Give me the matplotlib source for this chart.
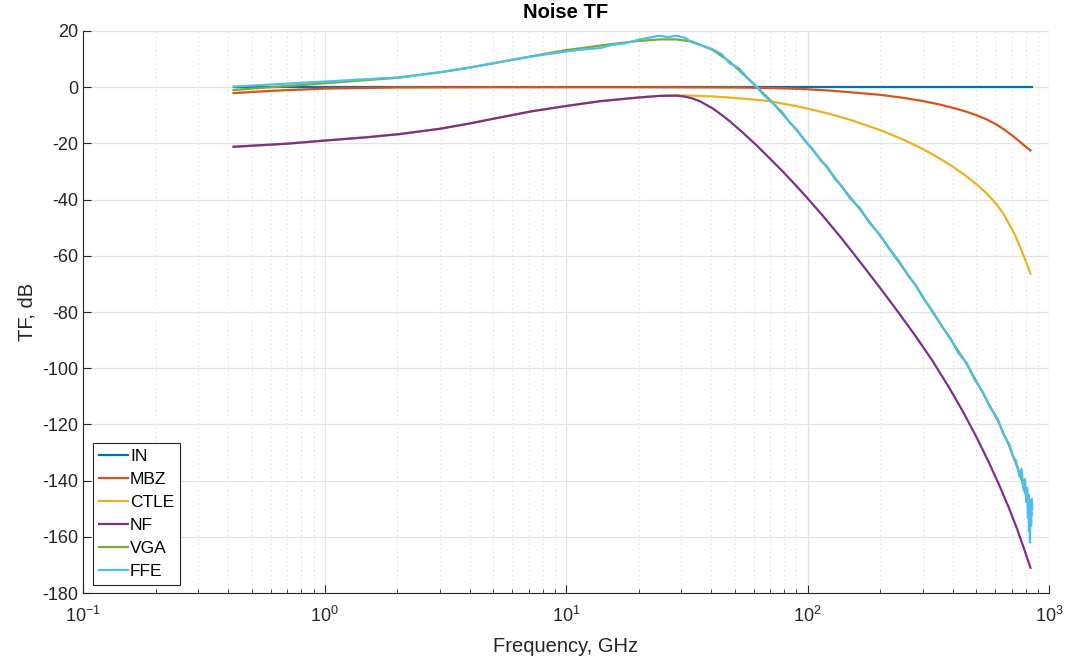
import numpy as np
import matplotlib
matplotlib.use("Agg")
import matplotlib.pyplot as plt
from matplotlib.ticker import LogLocator, NullFormatter

plt.rcParams['font.family'] = ['Liberation Sans', 'DejaVu Sans']
plt.rcParams['axes.unicode_minus'] = False

# frequency (GHz) / transfer function (dB)
f_in = [0.42, 850]
tf_in = [0, 0]

f_mbz = [0.42, 0.6, 1.0, 2.0, 5.0, 20, 50, 70, 93, 121, 150, 199, 250, 299, 350, 398, 450, 500,
         550, 606, 650, 707, 750, 778, 810, 838]
tf_mbz = [-2.1, -1.3, -0.5, -0.1, 0, 0, -0.1, -0.3, -0.6, -1.15, -1.8, -2.7, -3.8, -4.9, -6.1, -7.3,
          -8.6, -9.95, -11.4, -13.3, -15.0, -17.3, -19.1, -20.3, -21.5, -22.5]

f_ctle = [0.42, 0.7, 1.0, 1.5, 2.04, 3.0, 4.0, 5.3, 7.3, 10, 13.8, 19.8, 24.4, 28.6, 33.4, 40.4, 47.6,
          61.5, 71, 92, 121, 150, 199, 250, 299, 350, 398, 450, 500, 550, 606, 650, 707, 740, 778, 810, 838]
tf_ctle = [-21.2, -20.1, -19.0, -17.8, -16.7, -14.8, -12.9, -10.8, -8.5, -6.7, -5.0, -3.7, -3.1, -2.9,
           -3.0, -3.3, -3.7, -4.5, -5.1, -6.9, -9.3, -11.6, -15.2, -18.7, -21.9, -25.2, -28.2, -31.4,
           -34.5, -37.7, -41.6, -45.3, -50.9, -54.6, -59.2, -62.9, -66.3]

f_nf = [0.42, 0.7, 1.0, 1.5, 2.04, 3.0, 4.0, 5.3, 7.3, 10, 13.8, 19.8, 24.4, 28.6, 31.0, 33.4, 36.0,
        40.4, 44.0, 47.6, 54.0, 61.5, 71, 80, 90, 99, 115, 136, 149, 170, 205, 240, 283, 330, 387,
        440, 500, 560, 620, 680, 740, 790, 838]
tf_nf = [-21.2, -20.1, -19.0, -17.8, -16.7, -14.8, -12.9, -10.8, -8.5, -6.7, -5.0, -3.7, -3.1, -3.0,
         -3.35, -4.0, -5.1, -7.5, -9.8, -12.1, -16.2, -20.7, -26.0, -30.5, -35.2, -39.1, -45.5, -53.0,
         -57.3, -63.6, -72.7, -80.6, -89.1, -97.5, -107.1, -115.4, -124.4, -133.0, -141.3, -149.4,
         -157.5, -164.5, -171.0]

f_vga = [0.42, 1.0, 2.04, 3.0, 4.0, 5.3, 7.3, 10, 11.4, 13.8, 15.6, 19.8, 24.4, 28.6, 33.4, 40.4, 47.6,
         61.5, 71, 90, 105, 121, 136, 165, 199, 240, 280, 329, 390, 455, 530, 612, 686, 755, 815, 850]
tf_vga = [-1.0, 1.4, 3.4, 5.3, 7.0, 8.9, 11.1, 13.2, 13.8, 14.8, 15.4, 16.4, 17.0, 17.0, 16.2, 13.3, 9.1,
          0.2, -5.1, -15.2, -22.3, -28.8, -34.5, -43.5, -52.7, -62.5, -70.5, -79.9, -89.5, -98.3, -108.5,
          -118.4, -127.9, -137.3, -146.9, -152.0]

f_ffe = [0.42, 1.0, 2.04, 3.0, 4.0, 5.3, 7.3, 10, 11.4, 13.8, 15.6, 17.5, 19.8, 22.0, 24.4, 26.5, 28.6,
         31.0, 33.4, 36.0, 40.4, 44.0, 47.6, 52.0, 56.0, 61.5, 66, 71, 78, 85, 90, 97, 105, 113, 121,
         130, 136, 150, 165, 180, 199, 220, 240, 260, 280, 305, 329, 360, 390, 420, 455, 490, 530,
         570, 612, 650, 686, 710, 730, 755, 770, 785, 795, 805, 812, 818, 822, 826, 830, 834, 838,
         843, 848, 852]
tf_ffe = [0.2, 2.0, 3.5, 5.3, 7.0, 8.9, 11.0, 12.7, 13.3, 13.9, 15.1, 15.6, 16.8, 17.6, 18.3, 17.8, 18.3,
          17.6, 15.9, 15.0, 13.5, 11.8, 8.5, 6.8, 3.6, 0.2, -2.9, -5.3, -8.6, -12.9, -15.0, -18.9, -22.0,
          -25.9, -28.4, -32.8, -34.3, -39.6, -43.0, -48.2, -52.4, -57.8, -62.0, -66.9, -70.3, -75.8, -79.5,
          -85.1, -89.2, -94.5, -98.0, -103.8, -108.2, -113.9, -117.9, -123.8, -127.2, -131.5, -132.8,
          -138.5, -135.8, -143.5, -139.5, -147.5, -142.5, -153.0, -145.0, -158.0, -147.0, -162.0, -148.0,
          -156.0, -146.5, -150.0]

series = [
    ('IN', f_in, tf_in, '#0072BD'),
    ('MBZ', f_mbz, tf_mbz, '#D95319'),
    ('CTLE', f_ctle, tf_ctle, '#EDB120'),
    ('NF', f_nf, tf_nf, '#7E2F8E'),
    ('VGA', f_vga, tf_vga, '#77AC30'),
    ('FFE', f_ffe, tf_ffe, '#4DBEEE'),
]

fig = plt.figure(figsize=(10.65, 6.59), dpi=100)
ax = fig.add_axes([0.078, 0.100, 0.907, 0.853])

for name, f, tf, c in series:
    ax.semilogx(f, tf, color=c, lw=1.6, label=name)

ax.set_xlim(0.1, 1000)
ax.set_ylim(-180, 20)
ax.set_yticks(np.arange(-180, 21, 20))
ax.xaxis.set_major_locator(LogLocator(base=10, numticks=10))
ax.xaxis.set_minor_locator(LogLocator(base=10, subs=np.arange(2, 10), numticks=20))
ax.xaxis.set_minor_formatter(NullFormatter())

ax.grid(True, which='major', color='#e3e3e3', lw=0.9)
ax.grid(True, which='minor', axis='x', color='#d8d8d8', lw=0.8, ls=(0, (1, 3)))
ax.set_axisbelow(True)

for s in ['top', 'right']:
    ax.spines[s].set_visible(False)
for s in ['left', 'bottom']:
    ax.spines[s].set_color('#262626')
    ax.spines[s].set_linewidth(0.8)
ax.tick_params(which='both', direction='in', colors='#262626', labelsize=13)
ax.tick_params(which='major', length=6)
ax.tick_params(which='minor', length=3)
ax.tick_params(axis='x', pad=9)

ax.set_title('Noise TF', fontsize=14.5, fontweight='bold', pad=9)
ax.set_xlabel('Frequency, GHz', fontsize=14.5, color='#262626', labelpad=8)
ax.set_ylabel('TF, dB', fontsize=14.5, color='#262626')

leg = ax.legend(loc='lower left', bbox_to_anchor=(0.01, 0.015), fontsize=12.5, fancybox=False,
                edgecolor='#262626', framealpha=1, handlelength=1.7, handletextpad=0.1,
                borderpad=0.35, labelspacing=0.45, borderaxespad=0.0)
leg.get_frame().set_linewidth(0.8)

fig.savefig('out.png', dpi=100)
